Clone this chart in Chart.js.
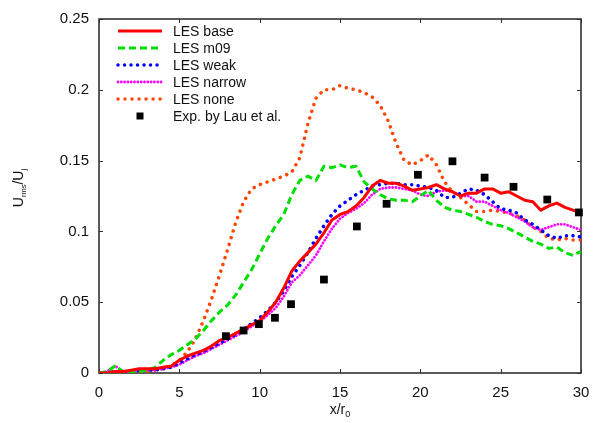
<!DOCTYPE html>
<html>
<head>
<meta charset="utf-8">
<script src="https://cdn.jsdelivr.net/npm/chart.js@4/dist/chart.umd.min.js"></script>
<style>
  html, body { margin: 0; padding: 0; background: #fff; }
  #wrap { width: 595px; height: 423px; }
</style>
</head>
<body>
<div id="wrap"><canvas id="c" width="595" height="423"></canvas></div>
<script>
// Streamwise positions x/r0 of the LES profiles
const xPos = [0, 0.5, 1, 1.5, 2, 2.5, 3, 3.5, 4, 4.5, 5, 5.5, 6, 6.5, 7, 7.5, 8, 8.5, 9, 9.5,
  10, 10.5, 11, 11.5, 12, 12.5, 13, 13.5, 14, 14.5, 15, 15.5, 16, 16.5, 17, 17.5, 18, 18.5, 19, 19.5,
  20, 20.5, 21, 21.5, 22, 22.5, 23, 23.5, 24, 24.5, 25, 25.5, 26, 26.5, 27, 27.5, 28, 28.5, 29, 29.5, 30];

// u_rms / U_j along the centreline for each LES case
const lesBase = [0, 0, 0.001, 0.001, 0.002, 0.003, 0.003, 0.003, 0.004, 0.005,
  0.009, 0.012, 0.014, 0.016, 0.019, 0.023, 0.025, 0.028, 0.031, 0.034,
  0.037, 0.043, 0.050, 0.060, 0.072, 0.079, 0.085, 0.091, 0.099, 0.108,
  0.112, 0.114, 0.118, 0.124, 0.132, 0.136, 0.134, 0.134, 0.132, 0.129,
  0.130, 0.131, 0.133, 0.130, 0.128, 0.125, 0.127, 0.127, 0.130, 0.130,
  0.127, 0.128, 0.125, 0.122, 0.121, 0.115, 0.118, 0.120, 0.117, 0.115, 0.113];

const lesM09 = [0, 0.001, 0.005, 0.001, 0.001, 0.001, 0.002, 0.004, 0.009, 0.013,
  0.016, 0.020, 0.024, 0.030, 0.037, 0.043, 0.048, 0.055, 0.064, 0.073,
  0.084, 0.095, 0.104, 0.112, 0.126, 0.136, 0.139, 0.136, 0.146, 0.145,
  0.147, 0.145, 0.146, 0.135, 0.130, 0.126, 0.123, 0.122, 0.122, 0.121,
  0.125, 0.129, 0.122, 0.117, 0.115, 0.114, 0.112, 0.110, 0.107, 0.105,
  0.104, 0.102, 0.099, 0.096, 0.093, 0.091, 0.088, 0.089, 0.085, 0.083, 0.086];

const lesWeak = [0, 0, 0.001, 0.001, 0.001, 0.002, 0.002, 0.002, 0.003, 0.004,
  0.007, 0.010, 0.013, 0.015, 0.018, 0.021, 0.024, 0.027, 0.031, 0.035,
  0.039, 0.044, 0.050, 0.058, 0.068, 0.076, 0.085, 0.095, 0.104, 0.112,
  0.118, 0.122, 0.126, 0.129, 0.132, 0.133, 0.134, 0.134, 0.133, 0.133,
  0.132, 0.131, 0.129, 0.124, 0.124, 0.127, 0.130, 0.129, 0.126, 0.121,
  0.116, 0.115, 0.113, 0.108, 0.105, 0.101, 0.097, 0.095, 0.097, 0.097, 0.096];

const lesNarrow = [0, 0.001, 0.005, 0.001, 0.001, 0.002, 0.002, 0.002, 0.003, 0.004,
  0.006, 0.009, 0.012, 0.014, 0.017, 0.020, 0.023, 0.026, 0.029, 0.033,
  0.036, 0.041, 0.046, 0.054, 0.064, 0.069, 0.076, 0.083, 0.093, 0.102,
  0.109, 0.113, 0.116, 0.120, 0.126, 0.130, 0.131, 0.131, 0.130, 0.129,
  0.126, 0.125, 0.128, 0.129, 0.128, 0.125, 0.125, 0.121, 0.121, 0.118,
  0.115, 0.113, 0.110, 0.107, 0.103, 0.101, 0.103, 0.105, 0.105, 0.103, 0.101];

const lesNone = [0, 0, 0.001, 0.001, 0.001, 0.001, 0.001, 0.002, 0.003, 0.005,
  0.009, 0.015, 0.024, 0.037, 0.052, 0.069, 0.087, 0.106, 0.121, 0.130,
  0.133, 0.135, 0.137, 0.139, 0.142, 0.152, 0.176, 0.194, 0.200, 0.200,
  0.203, 0.201, 0.200, 0.198, 0.195, 0.189, 0.178, 0.162, 0.150, 0.147,
  0.150, 0.154, 0.147, 0.135, 0.128, 0.124, 0.119, 0.114, 0.114, 0.115,
  0.114, 0.113, 0.111, 0.108, 0.103, 0.100, 0.095, 0.094, 0.095, 0.094, 0.094];

// Measurements by Lau et al.
const expX = [7.9, 9.0, 9.95, 10.95, 11.95, 14.0, 16.05, 17.9, 19.85, 22.0, 24.0, 25.8, 27.9, 29.87];
const expY = [0.026, 0.030, 0.0345, 0.039, 0.0486, 0.066, 0.1035, 0.1195, 0.140, 0.1495, 0.138, 0.1315, 0.1225, 0.1134];

// Axis ticks
const xTicks = [0, 5, 10, 15, 20, 25, 30];
const yTicks = [0, 0.05, 0.1, 0.15, 0.2, 0.25];

const FONT = '"Liberation Sans", Arial, Helvetica, sans-serif';
const INK = '#333333';

const toPoints = ys => xPos.map((x, i) => ({ x: x, y: ys[i] }));

const lineSet = (label, ys, color, width, dash, cap) => ({
  type: 'line',
  label: label,
  data: toPoints(ys),
  borderColor: color,
  backgroundColor: color,
  borderWidth: width,
  borderDash: dash,
  borderCapStyle: cap,
  borderJoinStyle: 'round',
  pointRadius: 0,
  pointHoverRadius: 0,
  fill: false,
  tension: 0
});

// Frame with inward ticks on all four sides, axis titles and an in-plot key
const framePlugin = {
  id: 'frame',
  beforeDatasetsDraw(chart) {
    const { ctx, chartArea: a, scales } = chart;
    ctx.save();
    ctx.strokeStyle = INK;
    ctx.lineWidth = 1;
    const t = 4;
    ctx.beginPath();
    xTicks.forEach(v => {
      const px = Math.round(scales.x.getPixelForValue(v)) + 0.5;
      ctx.moveTo(px, a.bottom); ctx.lineTo(px, a.bottom - t);
      ctx.moveTo(px, a.top); ctx.lineTo(px, a.top + t);
    });
    yTicks.forEach(v => {
      const py = Math.round(scales.y.getPixelForValue(v)) + 0.5;
      ctx.moveTo(a.left, py); ctx.lineTo(a.left + t, py);
      ctx.moveTo(a.right, py); ctx.lineTo(a.right - t, py);
    });
    ctx.stroke();
    ctx.lineWidth = 1.6;
    ctx.strokeRect(a.left, a.top, a.right - a.left, a.bottom - a.top);
    ctx.restore();
  },
  afterDraw(chart) {
    const { ctx, chartArea: a } = chart;
    ctx.save();
    ctx.fillStyle = '#111';
    ctx.textBaseline = 'alphabetic';

    // x-axis title: x/r0
    const cx = (a.left + a.right) / 2;
    ctx.font = '14px ' + FONT;
    const w1 = ctx.measureText('x/r').width;
    ctx.font = '9px ' + FONT;
    const w2 = ctx.measureText('0').width;
    let sx = cx - (w1 + w2) / 2;
    ctx.textAlign = 'left';
    ctx.font = '14px ' + FONT;
    ctx.fillText('x/r', sx, 414);
    ctx.font = '9px ' + FONT;
    ctx.fillText('0', sx + w1, 417);

    // y-axis title: U_rms/U_j
    ctx.translate(23, 188);
    ctx.rotate(-Math.PI / 2);
    const parts = [['U', 14, 0], ['rms', 7.5, 3], ['/U', 14, 0], ['j', 8, 3]];
    let total = 0;
    parts.forEach(p => { ctx.font = p[1] + 'px ' + FONT; total += ctx.measureText(p[0]).width; });
    let px = -total / 2;
    parts.forEach(p => {
      ctx.font = p[1] + 'px ' + FONT;
      ctx.fillText(p[0], px, p[2]);
      px += ctx.measureText(p[0]).width;
    });
    ctx.restore();

    // key
    ctx.save();
    const x0 = a.left + 19, x1 = a.left + 63, tx = a.left + 74;
    let y = a.top + 12;
    ctx.font = '14px ' + FONT;
    ctx.textBaseline = 'middle';
    ctx.textAlign = 'left';
    chart.data.datasets.forEach(d => {
      ctx.save();
      if (d.showLine === false) {
        ctx.fillStyle = d.backgroundColor;
        const xm = (x0 + x1) / 2;
        ctx.fillRect(xm - 3.5, y - 3.5, 7, 7);
      } else {
        ctx.strokeStyle = d.borderColor;
        ctx.lineWidth = d.borderWidth;
        ctx.lineCap = d.borderCapStyle || 'butt';
        ctx.setLineDash(d.borderDash || []);
        ctx.beginPath();
        ctx.moveTo(x0, y); ctx.lineTo(x1, y);
        ctx.stroke();
      }
      ctx.restore();
      ctx.fillStyle = '#111';
      ctx.fillText(d.label, tx, y + 1);
      y += 17;
    });
    ctx.restore();
  }
};

const chart = new Chart(document.getElementById('c'), {
  data: {
    datasets: [
      lineSet('LES base', lesBase, '#ff0000', 3, [], 'butt'),
      lineSet('LES m09', lesM09, '#00dd00', 3, [7, 4], 'butt'),
      lineSet('LES weak', lesWeak, '#0000ff', 3.5, [0.01, 6.5], 'round'),
      lineSet('LES narrow', lesNarrow, '#ff00ff', 2.8, [0.01, 3.3], 'round'),
      lineSet('LES none', lesNone, '#ff4500', 3.5, [0.01, 7], 'round'),
      {
        type: 'scatter',
        label: 'Exp. by Lau et al.',
        data: expX.map((x, i) => ({ x: x, y: expY[i] })),
        showLine: false,
        pointStyle: 'rect',
        pointRadius: 5.5,
        pointHoverRadius: 5.5,
        backgroundColor: '#000000',
        borderColor: '#000000',
        borderWidth: 0,
        clip: false,
        order: -1
      }
    ]
  },
  options: {
    responsive: false,
    devicePixelRatio: 1,
    animation: false,
    events: [],
    layout: { padding: { top: 18, right: 14, left: 0, bottom: 0 } },
    plugins: { legend: { display: false }, tooltip: { enabled: false } },
    scales: {
      x: {
        type: 'linear',
        min: 0, max: 30,
        afterBuildTicks: s => { s.ticks = xTicks.map(v => ({ value: v })); },
        afterFit: s => { s.height = 50; },
        // tick marks are drawn by the frame plugin; the hidden tick length only spaces the labels
        grid: { display: false, drawTicks: true, tickLength: 8 },
        border: { display: false },
        ticks: {
          padding: 3, color: '#111', maxRotation: 0, autoSkip: false,
          font: { family: FONT, size: 15 },
          callback: v => String(v)
        }
      },
      y: {
        type: 'linear',
        min: 0, max: 0.25,
        afterBuildTicks: s => { s.ticks = yTicks.map(v => ({ value: v })); },
        afterFit: s => { s.width = 99; },
        grid: { display: false, drawTicks: false },
        border: { display: false },
        ticks: {
          padding: 10, color: '#111', autoSkip: false,
          font: { family: FONT, size: 15 },
          callback: v => String(v)
        }
      }
    }
  },
  plugins: [framePlugin]
});
</script>
</body>
</html>
